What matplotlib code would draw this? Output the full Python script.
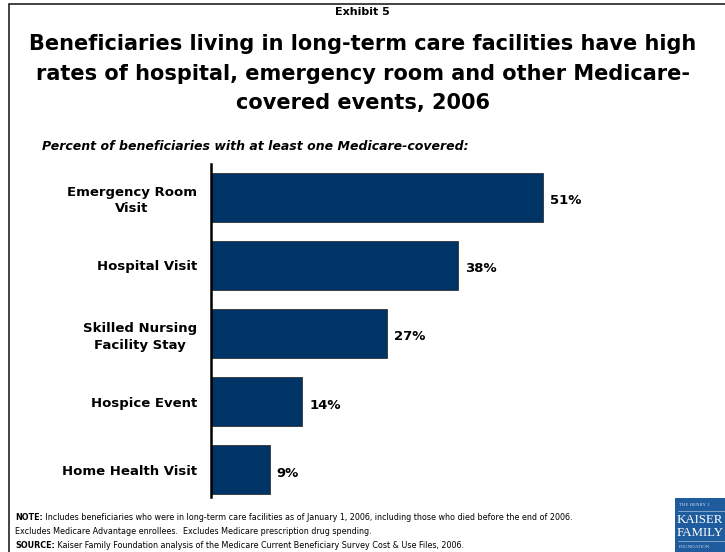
import matplotlib.pyplot as plt
from matplotlib.patches import Rectangle
from matplotlib.lines import Line2D

categories = ['Emergency Room\nVisit', 'Hospital Visit', 'Skilled Nursing\nFacility Stay',
              'Hospice Event', 'Home Health Visit']
values = [51, 38, 27, 14, 9]

note_lines = [
    ('NOTE:', ' Includes beneficiaries who were in long-term care facilities as of January 1, 2006, '
              'including those who died before the end of 2006.'),
    ('', 'Excludes Medicare Advantage enrollees.  Excludes Medicare prescription drug spending.'),
    ('SOURCE:', ' Kaiser Family Foundation analysis of the Medicare Current Beneficiary Survey '
                'Cost & Use Files, 2006.'),
]

BAR_COLOR = '#003366'
W, H = 725, 552

plt.rcParams['font.family'] = 'DejaVu Sans'

fig = plt.figure(figsize=(W / 100, H / 100), dpi=100)


def fx(px):
    return px / W


def fy(py):
    return 1 - py / H


# outer slide frame
fig.add_artist(Rectangle((fx(9), -0.1), 1.2, fy(4) + 0.1, transform=fig.transFigure,
                         fill=False, edgecolor='#222222', linewidth=1.2))

fig.text(0.5, fy(12), 'Exhibit 5', ha='center', va='center', fontsize=8, fontweight='bold')
title_rows = ['Beneficiaries living in long-term care facilities have high',
              'rates of hospital, emergency room and other Medicare-',
              'covered events, 2006']
for row, py in zip(title_rows, [44, 74, 103]):
    fig.text(0.5, fy(py), row, ha='center', va='center', fontsize=15, fontweight='bold')

fig.text(fx(42), fy(147), 'Percent of beneficiaries with at least one Medicare-covered:',
         ha='left', va='center', fontsize=9, fontweight='bold', style='italic')

ax = fig.add_axes([fx(211), fy(497), 390 / W, 333 / H])
y = list(range(len(values)))
bars = ax.barh(y, values, height=0.72, color=BAR_COLOR, edgecolor='#333333', linewidth=0.6)
ax.set_xlim(0, 60)
ax.set_ylim(4.40, -0.49)

for b, v in zip(bars, values):
    ax.text(b.get_width() + 1.1, b.get_y() + b.get_height() / 2 + 0.05, f'{v}%',
            ha='left', va='center', fontsize=9.5, fontweight='bold')

ax.set_yticks(y)
ax.set_yticklabels(categories, fontsize=9.5, fontweight='bold', linespacing=1.35,
                   multialignment='center')
ax.tick_params(axis='y', length=0, pad=10)
ax.set_xticks([])
for side in ['top', 'right', 'bottom']:
    ax.spines[side].set_visible(False)
ax.spines['left'].set_linewidth(1.8)

# notes: bold lead word followed by regular text
renderer = fig.canvas.get_renderer()
for (lead, rest), py in zip(note_lines, [517, 532, 546]):
    x0 = fx(15)
    if lead:
        t = fig.text(x0, fy(py), lead, ha='left', va='center', fontsize=5.8, fontweight='bold')
        bb = t.get_window_extent(renderer)
        x0 = bb.x1 / W
    fig.text(x0, fy(py), rest, ha='left', va='center', fontsize=5.8)

# foundation logo block
fig.add_artist(Rectangle((fx(675), 0), 60 / W, fy(498), transform=fig.transFigure,
                         facecolor='#1f5c9e', edgecolor='none'))
for py in [511, 541]:
    fig.add_artist(Line2D([fx(678), 1], [fy(py), fy(py)], transform=fig.transFigure,
                          color='#a9c1dc', linewidth=0.5))
fig.text(fx(679), fy(505), 'THE HENRY J.', color='#c8d8ea', fontsize=3.5,
         family='Liberation Serif', va='center')
fig.text(fx(677), fy(520), 'KAISER', color='white', fontsize=9.3,
         family='Liberation Serif', va='center')
fig.text(fx(677), fy(533), 'FAMILY', color='white', fontsize=9.3,
         family='Liberation Serif', va='center')
fig.text(fx(679), fy(547), 'FOUNDATION', color='#c8d8ea', fontsize=3.5,
         family='Liberation Serif', va='center')

fig.savefig('out.png', dpi=100)
